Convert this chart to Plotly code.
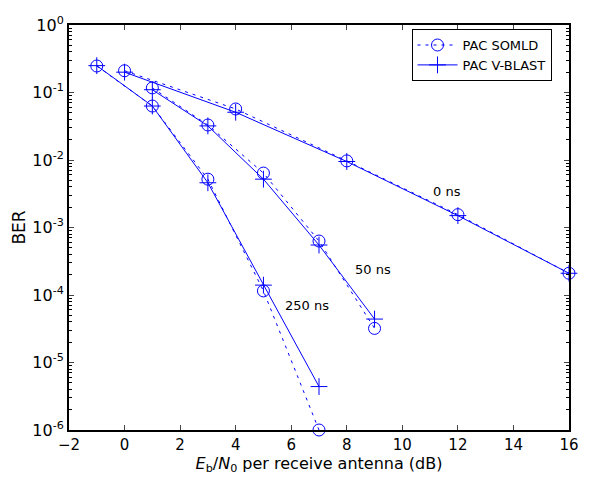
import math
import plotly.graph_objects as go

# Data
x_0ns = [0, 4, 8, 12, 16]
somld_0ns = [0.21, 0.057, 0.0097, 0.00155, 0.00021]
vblast_0ns = [0.2, 0.051, 0.0095, 0.0015, 0.00021]

x_50ns = [1, 3, 5, 7, 9]
somld_50ns = [0.117, 0.033, 0.0064, 0.00063, 0.000032]
vblast_50ns = [0.11, 0.032, 0.0052, 0.00055, 0.000044]

x_250ns = [-1, 1, 3, 5, 7]
somld_250ns = [0.247, 0.063, 0.0052, 0.000115, 0.000001]
vblast_250ns = [0.25, 0.063, 0.0046, 0.00014, 0.0000044]

curve_labels = ["0 ns", "50 ns", "250 ns"]
label_x = [11.6, 8.95, 6.55]
label_y = [10 ** -2.46, 10 ** -3.62, 10 ** -4.15]

y_tickvals = [1, 0.1, 0.01, 0.001, 0.0001, 0.00001, 0.000001]
y_ticktext = ["10<sup>0</sup>", "10<sup>-1</sup>", "10<sup>-2</sup>", "10<sup>-3</sup>",
              "10<sup>-4</sup>", "10<sup>-5</sup>", "10<sup>-6</sup>"]
x_tickvals = [-2, 0, 2, 4, 6, 8, 10, 12, 14, 16]

BLUE = "rgb(0,0,255)"
FONT = "DejaVu Sans, Arial, sans-serif"

minor_vals = [m * 10 ** e for e in range(-6, 0) for m in range(2, 10)]

fig = go.Figure()

series = [(x_0ns, somld_0ns, vblast_0ns), (x_50ns, somld_50ns, vblast_50ns),
          (x_250ns, somld_250ns, vblast_250ns)]
for i, (xs, s, v) in enumerate(series):
    fig.add_trace(go.Scatter(
        x=xs, y=s, mode="lines+markers", name="PAC SOMLD", showlegend=(i == 0),
        line=dict(color=BLUE, width=1, dash="3px,5px"), cliponaxis=False,
        marker=dict(symbol="circle-open", size=12, color=BLUE, line=dict(width=1, color=BLUE)),
        legendgroup="somld"))
    fig.add_trace(go.Scatter(
        x=xs, y=v, mode="lines+markers", name="PAC V-BLAST", showlegend=(i == 0),
        line=dict(color=BLUE, width=1), cliponaxis=False,
        marker=dict(symbol="cross-thin-open", size=12, color=BLUE, line=dict(width=1, color=BLUE)),
        legendgroup="vblast"))

for t, lx, ly in zip(curve_labels, label_x, label_y):
    fig.add_annotation(x=lx, y=math.log10(ly), yref="y", xref="x", text=t, showarrow=False,
                       font=dict(family=FONT, size=13, color="black"))

fig.update_layout(
    width=591, height=481,
    margin=dict(l=69, r=14, t=25, b=51),
    paper_bgcolor="white", plot_bgcolor="white",
    font=dict(family=FONT, size=16, color="black"),
    showlegend=True,
    legend=dict(x=0.685, y=0.99, xanchor="left", yanchor="top",
                bordercolor="black", borderwidth=1, bgcolor="white",
                font=dict(family=FONT, size=13), tracegroupgap=0,
                itemwidth=40, entrywidth=116, entrywidthmode="pixels"),
    xaxis=dict(range=[-2, 16], tickvals=x_tickvals, ticks="inside", ticklen=5,
               showline=True, linecolor="black", linewidth=2, mirror="ticks",
               showgrid=False, zeroline=False, tickfont=dict(size=15),
               ticklabeloverflow="allow",
               title=dict(text="<i>E</i><sub>b</sub>/<i>N</i><sub>0</sub> per receive antenna (dB)",
                          font=dict(size=16), standoff=4)),
    yaxis=dict(type="log", range=[-6, 0], tickvals=y_tickvals, ticktext=y_ticktext,
               ticks="inside", ticklen=5, showline=True, linecolor="black", linewidth=2,
               mirror="ticks", showgrid=False, zeroline=False, tickfont=dict(size=16),
               minor=dict(ticks="inside", ticklen=3, showgrid=False, tickmode="array",
                          tickvals=minor_vals, tickcolor="black"),
               title=dict(text="BER", font=dict(size=17), standoff=2)),
)

fig.write_html(
    "out.html", config={"displayModeBar": False},
    post_script=("document.documentElement.style.overflow='hidden';"
                 "document.body.style.margin='0';document.body.style.overflow='hidden';"
                 "document.querySelectorAll('svg.main-svg').forEach(function(s){s.style.overflow='hidden';});"))
